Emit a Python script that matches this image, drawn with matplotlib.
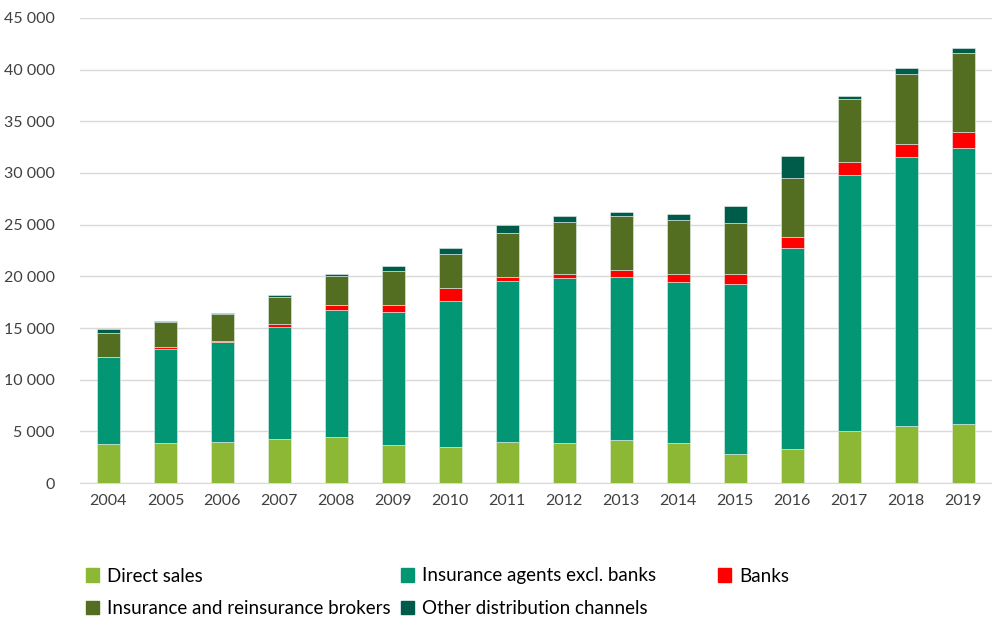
import matplotlib.pyplot as plt
import matplotlib.patches as mpatches
from matplotlib.ticker import FuncFormatter
import numpy as np

years = ['2004', '2005', '2006', '2007', '2008', '2009', '2010', '2011',
         '2012', '2013', '2014', '2015', '2016', '2017', '2018', '2019']
direct_sales = [3800, 3860, 3930, 4280, 4410, 3700, 3450, 3960,
                3860, 4150, 3860, 2800, 3280, 4990, 5540, 5730]
agents = [8400, 9120, 9760, 10860, 12300, 12890, 14200, 15590,
          16010, 15790, 15620, 16430, 19490, 24830, 25990, 26670]
banks = [30, 160, 60, 290, 490, 640, 1220, 420,
         390, 640, 710, 960, 1060, 1260, 1320, 1600]
brokers = [2270, 2420, 2580, 2610, 2800, 3250, 3320, 4250,
           4990, 5220, 5220, 5000, 5640, 6050, 6760, 7600]
other = [380, 120, 130, 190, 260, 520, 510, 710,
         550, 380, 610, 1570, 2190, 330, 550, 500]

labels = ['Direct sales', 'Insurance agents excl. banks', 'Banks',
          'Insurance and reinsurance brokers', 'Other distribution channels']
colors = ['#8db836', '#039674', '#ff0000', '#536e21', '#005c4a']
series = [direct_sales, agents, banks, brokers, other]

plt.rcParams['font.family'] = ['Lato', 'DejaVu Sans']

fig = plt.figure(figsize=(9.92, 6.18), dpi=100)
ax = fig.add_axes([0.0806, 0.2184, 0.919, 0.7525])

x = np.arange(len(years))
bottom = np.zeros(len(years))
for vals, col, lab in zip(series, colors, labels):
    ax.bar(x, vals, 0.4, bottom=bottom, color=col, label=lab,
           edgecolor='#e8f0ec', linewidth=0.4, zorder=3)
    bottom += np.array(vals)

ax.set_xlim(-0.5, len(years) - 0.5)
ax.set_ylim(0, 45000)
ax.set_yticks(range(0, 45001, 5000))
ax.yaxis.set_major_formatter(FuncFormatter(lambda v, p: f'{int(v):,}'.replace(',', ' ')))
ax.set_xticks(x)
ax.set_xticklabels(years)
ax.grid(axis='y', color='#d9d9d9', linewidth=1, zorder=0)
for s in ['top', 'right', 'left']:
    ax.spines[s].set_visible(False)
ax.spines['bottom'].set_color('#d9d9d9')
ax.tick_params(length=0, labelsize=11.5, colors='#404040', pad=8)
ax.tick_params(axis='y', pad=18)

# legend: three evenly spaced columns like the original
handles = [mpatches.Patch(color=c) for c in colors]
cols = [[0, 3], [1, 4], [2]]
xpos = [78, 393, 710]
for xi, idx in zip(xpos, cols):
    fig.legend([handles[i] for i in idx], [labels[i] for i in idx],
               loc='upper left', bbox_to_anchor=(xi / 992, 1 - 560 / 618),
               frameon=False, fontsize=13.5, handlelength=0.7, handleheight=0.7,
               handletextpad=0.45, labelspacing=0.85, borderaxespad=0)

fig.savefig('out.png', dpi=100)
